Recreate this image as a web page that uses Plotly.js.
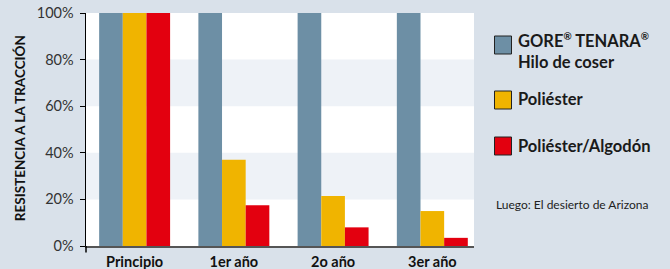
<!DOCTYPE html>
<html>
<head>
<meta charset="utf-8">
<script src="https://cdn.plot.ly/plotly-3.0.1.min.js"></script>
<style>html,body{margin:0;padding:0;background:#d9e1ea;}#chart{width:670px;height:269px;}</style>
</head>
<body>
<div id="chart"></div>
<script>
const categories = ["Principio", "1er año", "2o año", "3er año"];
const goreValues = [100, 100, 100, 100];
const poliesterValues = [100, 37, 21.5, 15];
const algodonValues = [100, 17.5, 8, 3.5];
const yTickValues = [0, 20, 40, 60, 80, 100];
const yTickLabels = ["0%", "20%", "40%", "60%", "80%", "100%"];
const seriesNames = ["GORE<sup><span style='font-size:10px'>®</span></sup> TENARA<sup><span style='font-size:10px'>®</span></sup><br>Hilo de coser", "Poliéster", "Poliéster/Algodón"];
const seriesColors = ["#6d8fa5", "#f0b400", "#e3000f"];
const noteText = "Luego: El desierto de Arizona";
const yTitle = "RESISTENCIA A LA TRACCIÓN";

const FONT = "Lato, 'Noto Sans', sans-serif";

const traces = [goreValues, poliesterValues, algodonValues].map((vals, i) => ({
  type: "bar",
  x: categories,
  y: vals,
  name: seriesNames[i],
  marker: {color: seriesColors[i], line: {width: 0}},
  showlegend: false,
  hoverinfo: "skip"
}));

const shapes = [
  {type: "rect", xref: "paper", yref: "y", x0: 0, x1: 1, y0: 60, y1: 80, fillcolor: "#eef2f7", line: {width: 0}, layer: "below"},
  {type: "rect", xref: "paper", yref: "y", x0: 0, x1: 1, y0: 20, y1: 40, fillcolor: "#eef2f7", line: {width: 0}, layer: "below"},
  {type: "line", xref: "paper", yref: "paper", x0: 0, x1: 0, y0: 0, y1: -0.028, line: {color: "#000", width: 1.5}}
];
const annotations = [
  {text: yTitle, xref: "paper", yref: "paper", x: -0.168, y: 0.505, textangle: -90, showarrow: false,
   font: {family: FONT, size: 13.5, color: "#111", weight: "bold"}, xanchor: "center", yanchor: "middle"},
  {text: noteText, xref: "paper", yref: "paper", x: 1.052, y: 0.18, showarrow: false, xanchor: "left", yanchor: "middle",
   font: {family: FONT, size: 12, color: "#222"}}
];
// legend drawn with shapes + annotations
const legendRows = [
  {sq: [36, 54], text: 51},
  {sq: [91, 109], text: 99},
  {sq: [137, 155], text: 146}
];
const plotLeft = 86, plotRight = 474, plotTop = 13, plotBottom = 246;
const px2x = x => (x - plotLeft) / (plotRight - plotLeft);
const px2y = y => (plotBottom - y) / (plotBottom - plotTop);
legendRows.forEach((r, i) => {
  shapes.push({type: "rect", xref: "paper", yref: "paper", x0: px2x(494.5), x1: px2x(511.5), y0: px2y(r.sq[1]), y1: px2y(r.sq[0]),
    fillcolor: seriesColors[i], line: {color: "#222", width: 1}});
  annotations.push({text: seriesNames[i], xref: "paper", yref: "paper", x: px2x(516), y: px2y(r.text), showarrow: false,
    xanchor: "left", yanchor: "middle", align: "left",
    font: {family: FONT, size: 16.5, color: "#1a1a1a", weight: "bold"}});
});

const layout = {
  width: 670, height: 269,
  margin: {l: plotLeft, r: 670 - plotRight, t: plotTop, b: 269 - plotBottom, pad: 0},
  paper_bgcolor: "#d9e1ea",
  plot_bgcolor: "#ffffff",
  barmode: "group",
  bargap: 0.285,
  bargroupgap: 0,
  font: {family: FONT, color: "#222"},
  xaxis: {
    type: "category", range: [-0.49, 3.42], showgrid: false, zeroline: false,
    showline: true, linecolor: "#555", linewidth: 2, ticks: "",
    tickfont: {family: FONT, size: 14.5, color: "#111", weight: "bold"}, ticklabelstandoff: 2, fixedrange: true
  },
  yaxis: {
    range: [0, 100], tickvals: yTickValues, ticktext: yTickLabels, showgrid: false, zeroline: false,
    showline: true, linecolor: "#000", linewidth: 1.5, ticks: "outside", ticklen: 5, tickcolor: "#000", tickwidth: 1,
    tickfont: {family: FONT, size: 14.5, color: "#333"}, ticklabelstandoff: 3, fixedrange: true
  },
  shapes: shapes,
  annotations: annotations
};

Plotly.newPlot("chart", traces, layout, {staticPlot: true, displayModeBar: false});
</script>
</body>
</html>
